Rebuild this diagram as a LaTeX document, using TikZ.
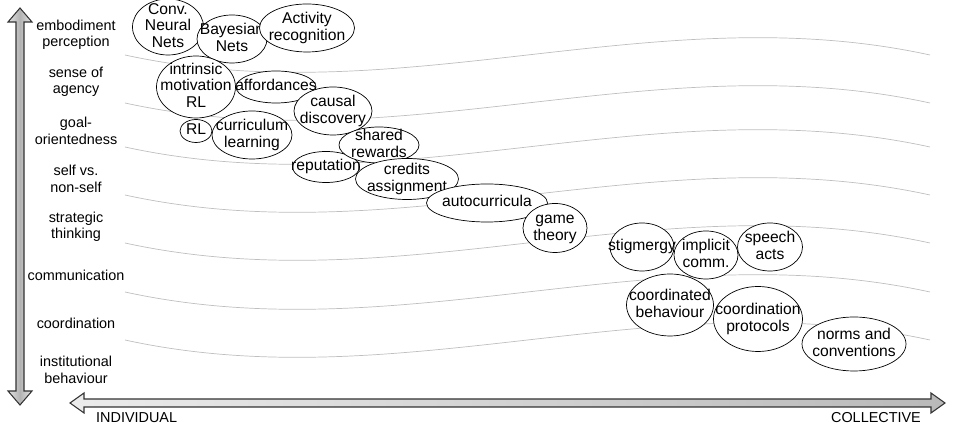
\documentclass[tikz,border=0pt]{standalone}
\usepackage{fontspec}
\setmainfont{Liberation Sans}
\usetikzlibrary{shapes.geometric}
\newcommand{\topictext}[1]{\makebox[0pt]{\smash{\raisebox{-2.6pt}{\renewcommand{\arraystretch}{0.95}\begin{tabular}{@{}c@{}}#1\end{tabular}}}}}

\begin{document}
\begin{tikzpicture}[
   x=0.02cm,y=-0.02cm,
   font=\fontsize{8.2}{9.4}\selectfont,
   level/.style={align=center},
   band/.style={gray!50,thin},
   topic/.style 2 args={draw,ellipse,fill=white,inner sep=0pt,
      minimum width=#1*0.02cm,minimum height=#2*0.02cm,font=\fontsize{8.9}{10}\selectfont},
   axis/.style={draw=black!80,semithick,left color=gray!15,right color=gray!55}]
\useasboundingbox (0,0) rectangle (954,431);
% grey bands between the levels
\foreach \yy in {55,103,147,195,243,292,340}
  \draw[band] (125,\yy) .. controls (400,\yy+60) and (655,\yy-60) .. (930,\yy);
% axes
\path[axis,top color=gray!20,bottom color=gray!20,middle color=gray!60,shading angle=90]
  (16,22) -- (8,22) -- (20,8) -- (32,22) -- (24,22) -- (24,391) -- (32,391)
  -- (20,405) -- (8,391) -- (16,391) -- cycle;
\path[axis] (84,399) -- (84,393) -- (70,403) -- (84,413) -- (84,407)
  -- (931,407) -- (931,413) -- (945,403) -- (931,393) -- (931,399) -- cycle;
\node[anchor=west] (indiv) at (90,418) {INDIVIDUAL};
\node[anchor=east] (coll) at (927,418) {COLLECTIVE};
% levels
\node[level] (emb) at (76,35) {embodiment\\perception};
\node[level] (agency) at (76,82) {sense of\\agency};
\node[level] (goal) at (76,131) {goal-\\orientedness};
\node[level] (self) at (76,179) {self vs.\\non-self};
\node[level] (strat) at (76,227) {strategic\\thinking};
\node[level] (comm) at (76,275) {communication};
\node[level] (coord) at (76,323) {coordination};
\node[level] (inst) at (76,370) {institutional\\behaviour};
% topics
\node[topic={71}{56}] (cnn) at (168,27) {\topictext{Conv.\\Neural\\Nets}};
\node[topic={70}{48}] (bayes) at (232,39) {\topictext{Bayesian\\Nets}};
\node[topic={95}{48}] (activity) at (307,28) {\topictext{Activity\\recognition}};
\node[topic={79}{62}] (intrinsic) at (196,87) {\topictext{intrinsic\\motivation\\RL}};
\node[topic={80}{32}] (afford) at (276,87) {\topictext{affordances}};
\node[topic={78}{48}] (causal) at (333,111) {\topictext{causal\\discovery}};
\node[topic={32}{23}] (rl) at (196,131) {\topictext{RL}};
\node[topic={80}{48}] (curric) at (252,135) {\topictext{curriculum\\learning}};
\node[topic={67}{31}] (reput) at (326,167) {\topictext{reputation}};
\node[topic={80}{36}] (shared) at (379,145) {\topictext{shared\\rewards}};
\node[topic={103}{41}] (credits) at (407,179) {\topictext{credits\\assignment}};
\node[topic={121}{38}] (autoc) at (487,203) {\topictext{autocurricula}};
\node[topic={64}{49}] (game) at (555,228) {\topictext{game\\theory}};
\node[topic={64}{48}] (stig) at (642,247) {\topictext{stigmergy}};
\node[topic={64}{48}] (implicit) at (706,255) {\topictext{implicit\\comm.}};
\node[topic={65}{48}] (speech) at (770,247) {\topictext{speech\\acts}};
\node[topic={87}{62}] (coordb) at (670,305) {\topictext{coordinated\\behaviour}};
\node[topic={89}{65}] (coordp) at (758,319) {\topictext{coordination\\protocols}};
\node[topic={104}{54}] (norms) at (854,344) {\topictext{norms and\\conventions}};
\end{tikzpicture}
\end{document}
